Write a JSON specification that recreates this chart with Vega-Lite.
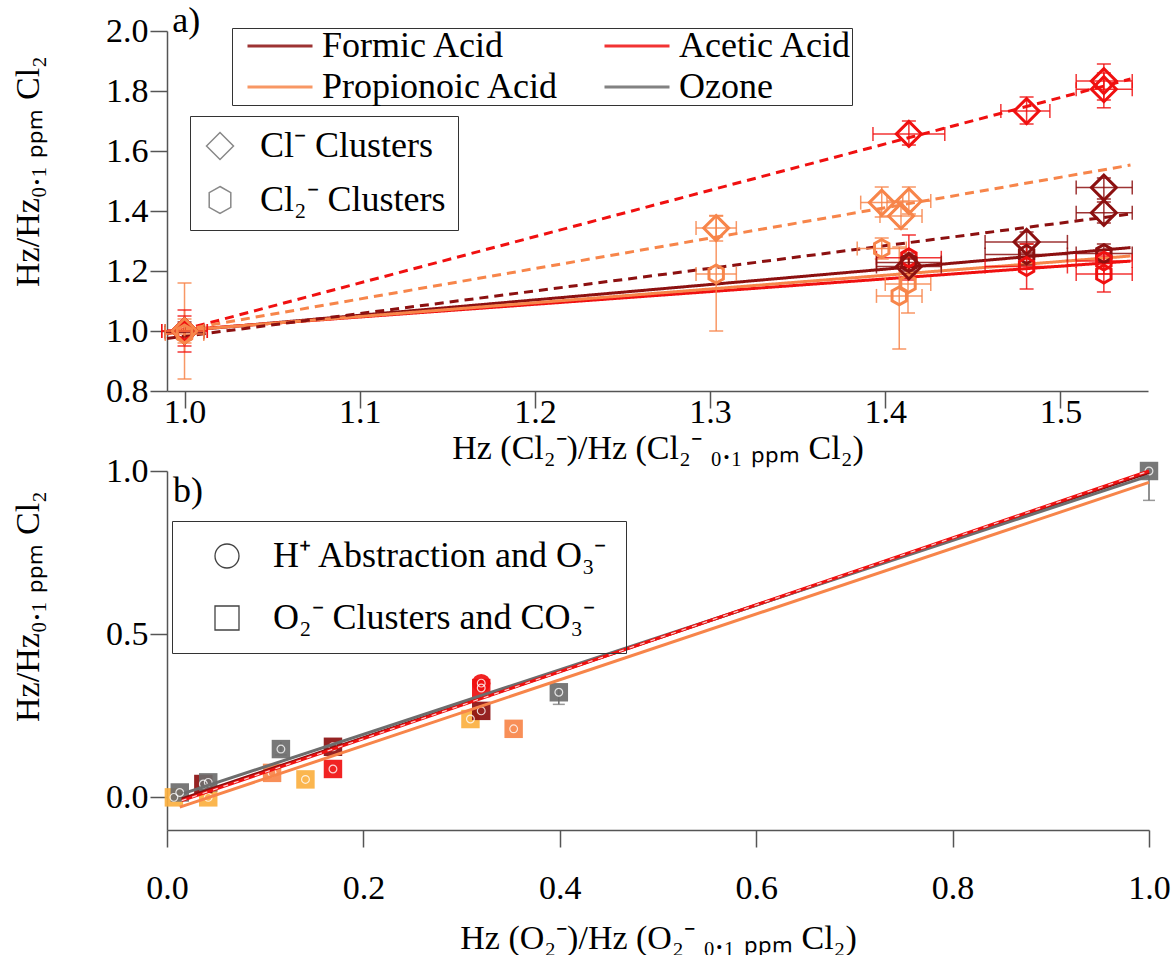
{
  "$schema": "https://vega.github.io/schema/vega-lite/v6.json",
  "background": "white",
  "padding": {"left": 11, "top": 2, "right": 5, "bottom": 0},
  "config": {
    "view": {"stroke": null},
    "font": "Liberation Serif",
    "axis": {"labelFont": "Liberation Serif", "titleFont": "Liberation Serif", "labelFontSize": 34, "titleFontSize": 34, "titleFontWeight": "normal", "labelColor": "black", "titleColor": "black", "domainColor": "#555555", "tickColor": "#555555", "domainWidth": 1.5, "tickWidth": 1.5, "tickSize": 17, "grid": false, "labelFlush": false},
    "legend": {"labelFont": "Liberation Serif", "labelFontSize": 36, "labelColor": "black", "strokeColor": "#333333", "orient": "none", "labelLimit": 700}
  },
  "datasets": {
    "linesA": [
      {"series": "Formic Acid", "fit": "Cl2", "x": 0.99, "y": 0.996},
      {"series": "Formic Acid", "fit": "Cl2", "x": 1.54, "y": 1.278},
      {"series": "Acetic Acid", "fit": "Cl2", "x": 0.99, "y": 1.0},
      {"series": "Acetic Acid", "fit": "Cl2", "x": 1.54, "y": 1.233},
      {"series": "Propionoic Acid", "fit": "Cl2", "x": 0.99, "y": 0.998},
      {"series": "Propionoic Acid", "fit": "Cl2", "x": 1.54, "y": 1.25},
      {"series": "Formic Acid", "fit": "Cl", "x": 0.99, "y": 0.975},
      {"series": "Formic Acid", "fit": "Cl", "x": 1.54, "y": 1.39},
      {"series": "Acetic Acid", "fit": "Cl", "x": 0.99, "y": 0.99},
      {"series": "Acetic Acid", "fit": "Cl", "x": 1.54, "y": 1.84},
      {"series": "Propionoic Acid", "fit": "Cl", "x": 0.99, "y": 0.995},
      {"series": "Propionoic Acid", "fit": "Cl", "x": 1.54, "y": 1.553}
    ],
    "pointsA": [
      {"series": "Formic Acid", "cluster": "Cl⁻ Clusters", "x": 1.0, "y": 1.0, "xlo": 0.989, "xhi": 1.011, "ylo": 0.98, "yhi": 1.02},
      {"series": "Formic Acid", "cluster": "Cl₂⁻ Clusters", "x": 1.0, "y": 0.995, "xlo": 0.989, "xhi": 1.011, "ylo": 0.97, "yhi": 1.03},
      {"series": "Acetic Acid", "cluster": "Cl⁻ Clusters", "x": 1.0, "y": 1.0, "xlo": 0.987, "xhi": 1.013, "ylo": 0.93, "yhi": 1.07},
      {"series": "Acetic Acid", "cluster": "Cl₂⁻ Clusters", "x": 1.0, "y": 1.0, "xlo": 0.987, "xhi": 1.013, "ylo": 0.95, "yhi": 1.05},
      {"series": "Propionoic Acid", "cluster": "Cl⁻ Clusters", "x": 1.0, "y": 1.0, "xlo": 0.989, "xhi": 1.011, "ylo": 0.96, "yhi": 1.04},
      {"series": "Propionoic Acid", "cluster": "Cl₂⁻ Clusters", "x": 1.0, "y": 0.99, "xlo": 0.989, "xhi": 1.011, "ylo": 0.84, "yhi": 1.16},
      {"series": "Propionoic Acid", "cluster": "Cl⁻ Clusters", "x": 1.3035, "y": 1.343, "xlo": 1.292, "xhi": 1.315, "ylo": 1.3, "yhi": 1.385},
      {"series": "Propionoic Acid", "cluster": "Cl₂⁻ Clusters", "x": 1.3035, "y": 1.19, "xlo": 1.292, "xhi": 1.315, "ylo": 1.0, "yhi": 1.383},
      {"series": "Propionoic Acid", "cluster": "Cl⁻ Clusters", "x": 1.398, "y": 1.428, "xlo": 1.386, "xhi": 1.41, "ylo": 1.38, "yhi": 1.48},
      {"series": "Propionoic Acid", "cluster": "Cl⁻ Clusters", "x": 1.4135, "y": 1.433, "xlo": 1.401, "xhi": 1.426, "ylo": 1.39, "yhi": 1.48},
      {"series": "Propionoic Acid", "cluster": "Cl⁻ Clusters", "x": 1.409, "y": 1.383, "xlo": 1.397, "xhi": 1.421, "ylo": 1.34, "yhi": 1.43},
      {"series": "Propionoic Acid", "cluster": "Cl₂⁻ Clusters", "x": 1.398, "y": 1.275, "xlo": 1.384, "xhi": 1.412, "ylo": 1.24, "yhi": 1.31},
      {"series": "Propionoic Acid", "cluster": "Cl₂⁻ Clusters", "x": 1.413, "y": 1.157, "xlo": 1.4, "xhi": 1.426, "ylo": 1.06, "yhi": 1.25},
      {"series": "Propionoic Acid", "cluster": "Cl₂⁻ Clusters", "x": 1.408, "y": 1.117, "xlo": 1.395, "xhi": 1.421, "ylo": 0.94, "yhi": 1.28},
      {"series": "Acetic Acid", "cluster": "Cl₂⁻ Clusters", "x": 1.4135, "y": 1.244, "xlo": 1.395, "xhi": 1.432, "ylo": 1.17, "yhi": 1.32},
      {"series": "Acetic Acid", "cluster": "Cl⁻ Clusters", "x": 1.4135, "y": 1.657, "xlo": 1.393, "xhi": 1.434, "ylo": 1.62, "yhi": 1.7},
      {"series": "Formic Acid", "cluster": "Cl⁻ Clusters", "x": 1.4135, "y": 1.215, "xlo": 1.395, "xhi": 1.432, "ylo": 1.19, "yhi": 1.24},
      {"series": "Formic Acid", "cluster": "Cl₂⁻ Clusters", "x": 1.4135, "y": 1.228, "xlo": 1.395, "xhi": 1.432, "ylo": 1.2, "yhi": 1.26},
      {"series": "Acetic Acid", "cluster": "Cl⁻ Clusters", "x": 1.4807, "y": 1.733, "xlo": 1.466, "xhi": 1.494, "ylo": 1.69, "yhi": 1.78},
      {"series": "Formic Acid", "cluster": "Cl⁻ Clusters", "x": 1.4807, "y": 1.297, "xlo": 1.457, "xhi": 1.504, "ylo": 1.26, "yhi": 1.33},
      {"series": "Formic Acid", "cluster": "Cl₂⁻ Clusters", "x": 1.4807, "y": 1.255, "xlo": 1.457, "xhi": 1.504, "ylo": 1.22, "yhi": 1.29},
      {"series": "Acetic Acid", "cluster": "Cl₂⁻ Clusters", "x": 1.4807, "y": 1.215, "xlo": 1.457, "xhi": 1.504, "ylo": 1.14, "yhi": 1.29},
      {"series": "Acetic Acid", "cluster": "Cl⁻ Clusters", "x": 1.5248, "y": 1.833, "xlo": 1.509, "xhi": 1.541, "ylo": 1.77, "yhi": 1.89},
      {"series": "Acetic Acid", "cluster": "Cl⁻ Clusters", "x": 1.5248, "y": 1.806, "xlo": 1.509, "xhi": 1.541, "ylo": 1.744, "yhi": 1.86},
      {"series": "Formic Acid", "cluster": "Cl⁻ Clusters", "x": 1.5248, "y": 1.478, "xlo": 1.509, "xhi": 1.541, "ylo": 1.44, "yhi": 1.51},
      {"series": "Formic Acid", "cluster": "Cl⁻ Clusters", "x": 1.5248, "y": 1.394, "xlo": 1.509, "xhi": 1.541, "ylo": 1.36, "yhi": 1.43},
      {"series": "Formic Acid", "cluster": "Cl₂⁻ Clusters", "x": 1.5248, "y": 1.258, "xlo": 1.509, "xhi": 1.541, "ylo": 1.23, "yhi": 1.29},
      {"series": "Acetic Acid", "cluster": "Cl₂⁻ Clusters", "x": 1.5248, "y": 1.233, "xlo": 1.509, "xhi": 1.541, "ylo": 1.19, "yhi": 1.26},
      {"series": "Acetic Acid", "cluster": "Cl₂⁻ Clusters", "x": 1.5248, "y": 1.19, "xlo": 1.509, "xhi": 1.541, "ylo": 1.13, "yhi": 1.25}
    ],
    "linesB": [
      {"series": "Formic Acid", "x": 0.015, "y": -0.005},
      {"series": "Formic Acid", "x": 1.0, "y": 0.995},
      {"series": "Ozone", "x": 0.017, "y": 0.012},
      {"series": "Ozone", "x": 1.0, "y": 0.985},
      {"series": "Propionoic Acid", "x": 0.013, "y": -0.03},
      {"series": "Propionoic Acid", "x": 1.0, "y": 0.965},
      {"series": "Acetic Acid", "x": 0.015, "y": -0.01},
      {"series": "Acetic Acid", "x": 1.0, "y": 1.0}
    ],
    "pointsB": [
      {"series": "Other", "type": "O₂⁻ Clusters and CO₃⁻", "x": 0.007, "y": 0.0},
      {"series": "Other", "type": "O₂⁻ Clusters and CO₃⁻", "x": 0.042, "y": 0.0},
      {"series": "Other", "type": "O₂⁻ Clusters and CO₃⁻", "x": 0.141, "y": 0.055},
      {"series": "Other", "type": "O₂⁻ Clusters and CO₃⁻", "x": 0.309, "y": 0.24},
      {"series": "Propionoic Acid", "type": "O₂⁻ Clusters and CO₃⁻", "x": 0.107, "y": 0.075},
      {"series": "Propionoic Acid", "type": "O₂⁻ Clusters and CO₃⁻", "x": 0.353, "y": 0.21},
      {"series": "Formic Acid", "type": "O₂⁻ Clusters and CO₃⁻", "x": 0.037, "y": 0.041},
      {"series": "Formic Acid", "type": "O₂⁻ Clusters and CO₃⁻", "x": 0.169, "y": 0.155},
      {"series": "Formic Acid", "type": "O₂⁻ Clusters and CO₃⁻", "x": 0.32, "y": 0.265},
      {"series": "Acetic Acid", "type": "O₂⁻ Clusters and CO₃⁻", "x": 0.169, "y": 0.087},
      {"series": "Acetic Acid", "type": "O₂⁻ Clusters and CO₃⁻", "x": 0.32, "y": 0.335},
      {"series": "Acetic Acid", "type": "H⁺ Abstraction and O₃⁻", "x": 0.32, "y": 0.35},
      {"series": "Ozone", "type": "O₂⁻ Clusters and CO₃⁻", "x": 0.013, "y": 0.015},
      {"series": "Ozone", "type": "O₂⁻ Clusters and CO₃⁻", "x": 0.042, "y": 0.046},
      {"series": "Ozone", "type": "O₂⁻ Clusters and CO₃⁻", "x": 0.116, "y": 0.148},
      {"series": "Ozone", "type": "O₂⁻ Clusters and CO₃⁻", "x": 0.399, "y": 0.322},
      {"series": "Ozone", "type": "O₂⁻ Clusters and CO₃⁻", "x": 1.0, "y": 1.0}
    ],
    "errB": [
      {"series": "Ozone", "x": 1.0, "ylo": 0.91, "yhi": 1.0},
      {"series": "Ozone", "x": 0.399, "ylo": 0.285, "yhi": 0.34},
      {"series": "Ozone", "x": 0.116, "ylo": 0.13, "yhi": 0.17}
    ]
  },
  "bounds": "flush",
  "spacing": 80,
  "resolve": {
    "scale": {"color": "independent", "shape": "independent", "strokeDash": "independent", "x": "independent", "y": "independent"},
    "legend": {"color": "independent", "shape": "independent"}
  },
  "vconcat": [
    {
      "width": 981,
      "height": 360,
      "encoding": {
        "x": {"type": "quantitative", "scale": {"domain": [0.99, 1.55], "nice": false, "zero": false},
          "axis": {"title": "Hz (Cl₂⁻)/Hz (Cl₂⁻ ₀.₁ ₚₚₘ Cl₂)", "values": [1.0, 1.1, 1.2, 1.3, 1.4, 1.5], "format": ".1f", "labelPadding": -13, "titlePadding": 2}},
        "y": {"type": "quantitative", "scale": {"domain": [0.8, 2.0], "nice": false, "zero": false},
          "axis": {"title": "Hz/Hz₀.₁ ₚₚₘ Cl₂", "values": [0.8, 1.0, 1.2, 1.4, 1.6, 1.8, 2.0], "format": ".1f", "labelPadding": 2, "titlePadding": 60, "titleY": 140}}
      },
      "layer": [
        {
          "data": {"name": "linesA"},
          "mark": {"type": "line", "strokeWidth": 3},
          "encoding": {
            "x": {"field": "x", "type": "quantitative"},
            "y": {"field": "y", "type": "quantitative"},
            "color": {"field": "series", "type": "nominal",
              "scale": {"domain": ["Formic Acid", "Propionoic Acid", "Acetic Acid", "Ozone"], "range": ["#8c1010", "#f7854a", "#f01010", "#6d6d6d"]},
              "legend": {"title": null, "columns": 2, "columnPadding": 30, "rowPadding": 5, "symbolType": "M-2.5,0L2.5,0", "symbolSize": 676, "symbolStrokeWidth": 3, "symbolOffset": 30, "labelOffset": 24, "padding": 0, "legendX": 65, "legendY": -3,
                "values": ["Formic Acid", "Propionoic Acid", "Acetic Acid", "Ozone"]}},
            "strokeDash": {"field": "fit", "type": "nominal", "scale": {"domain": ["Cl2", "Cl"], "range": [[1, 0], [9, 6]]}, "legend": null}
          }
        },
        {
          "data": {"name": "pointsA"},
          "mark": {"type": "rule", "strokeWidth": 1.5, "opacity": 0.85},
          "encoding": {
            "x": {"field": "x", "type": "quantitative"},
            "y": {"field": "ylo", "type": "quantitative"},
            "y2": {"field": "yhi"},
            "color": {"field": "series", "type": "nominal"}
          }
        },
        {
          "data": {"name": "pointsA"},
          "mark": {"type": "rule", "strokeWidth": 1.5, "opacity": 0.85},
          "encoding": {
            "x": {"field": "xlo", "type": "quantitative"},
            "x2": {"field": "xhi"},
            "y": {"field": "y", "type": "quantitative"},
            "color": {"field": "series", "type": "nominal"}
          }
        },
        {
          "data": {"name": "pointsA"},
          "mark": {"type": "tick", "orient": "horizontal", "size": 14, "thickness": 1.5, "opacity": 0.85},
          "encoding": {
            "x": {"field": "x", "type": "quantitative"},
            "y": {"field": "ylo", "type": "quantitative"},
            "color": {"field": "series", "type": "nominal"}
          }
        },
        {
          "data": {"name": "pointsA"},
          "mark": {"type": "tick", "orient": "horizontal", "size": 14, "thickness": 1.5, "opacity": 0.85},
          "encoding": {
            "x": {"field": "x", "type": "quantitative"},
            "y": {"field": "yhi", "type": "quantitative"},
            "color": {"field": "series", "type": "nominal"}
          }
        },
        {
          "data": {"name": "pointsA"},
          "mark": {"type": "tick", "orient": "vertical", "size": 14, "thickness": 1.5, "opacity": 0.85},
          "encoding": {
            "x": {"field": "xlo", "type": "quantitative"},
            "y": {"field": "y", "type": "quantitative"},
            "color": {"field": "series", "type": "nominal"}
          }
        },
        {
          "data": {"name": "pointsA"},
          "mark": {"type": "tick", "orient": "vertical", "size": 14, "thickness": 1.5, "opacity": 0.85},
          "encoding": {
            "x": {"field": "xhi", "type": "quantitative"},
            "y": {"field": "y", "type": "quantitative"},
            "color": {"field": "series", "type": "nominal"}
          }
        },
        {
          "data": {"name": "pointsA"},
          "mark": {"type": "point", "filled": false, "strokeWidth": 3, "opacity": 1},
          "encoding": {
            "x": {"field": "x", "type": "quantitative"},
            "y": {"field": "y", "type": "quantitative"},
            "color": {"field": "series", "type": "nominal"},
            "shape": {"field": "cluster", "type": "nominal",
              "scale": {"domain": ["Cl⁻ Clusters", "Cl₂⁻ Clusters"], "range": ["diamond", "M0,-1L0.8,-0.55L0.8,0.55L0,1L-0.8,0.55L-0.8,-0.55Z"]},
              "legend": {"title": null, "symbolSize": 729, "rowPadding": 18, "labelOffset": 22, "padding": 12, "legendX": 23, "legendY": 85,
                "encode": {"symbols": {"update": {"fill": {"value": "transparent"}, "stroke": {"value": "#333333"}, "strokeWidth": {"value": 1.3}}}}}},
            "size": {"field": "cluster", "type": "nominal", "scale": {"domain": ["Cl⁻ Clusters", "Cl₂⁻ Clusters"], "range": [625, 324]}, "legend": null}
          }
        },
        {
          "data": {"values": [{"label": "a)"}]},
          "mark": {"type": "text", "fontSize": 36, "align": "left", "baseline": "middle", "font": "Liberation Serif", "color": "black"},
          "encoding": {
            "x": {"datum": 0.993},
            "y": {"datum": 2.035},
            "text": {"field": "label"}
          }
        }
      ]
    },
    {
      "width": 982,
      "height": 359,
      "encoding": {
        "x": {"type": "quantitative", "scale": {"domain": [0, 1.0], "nice": false, "zero": false},
          "axis": {"title": "Hz (O₂⁻)/Hz (O₂⁻ ₀.₁ ₚₚₘ Cl₂)", "values": [0, 0.2, 0.4, 0.6, 0.8, 1.0], "format": ".1f", "labelPadding": 24, "titlePadding": 16}},
        "y": {"type": "quantitative", "scale": {"domain": [-0.1, 1.0], "nice": false, "zero": false},
          "axis": {"title": "Hz/Hz₀.₁ ₚₚₘ Cl₂", "values": [0, 0.5, 1.0], "format": ".1f", "labelPadding": 2, "titlePadding": 60, "titleY": 135}}
      },
      "layer": [
        {
          "data": {"name": "errB"},
          "mark": {"type": "rule", "strokeWidth": 1.5},
          "encoding": {
            "x": {"field": "x", "type": "quantitative"},
            "y": {"field": "ylo", "type": "quantitative"},
            "y2": {"field": "yhi"},
            "color": {"field": "series", "type": "nominal", "scale": {"domain": ["Formic Acid", "Acetic Acid", "Propionoic Acid", "Ozone", "Other"], "range": ["#8c1010", "#f01010", "#f7854a", "#6d6d6d", "#fbb040"]}, "legend": null}
          }
        },
        {
          "data": {"name": "errB"},
          "mark": {"type": "tick", "orient": "horizontal", "size": 12, "thickness": 1.5},
          "encoding": {
            "x": {"field": "x", "type": "quantitative"},
            "y": {"field": "ylo", "type": "quantitative"},
            "color": {"field": "series", "type": "nominal", "legend": null}
          }
        },
        {
          "data": {"name": "pointsB"},
          "mark": {"type": "point", "filled": true, "opacity": 0.92, "size": 340},
          "encoding": {
            "x": {"field": "x", "type": "quantitative"},
            "y": {"field": "y", "type": "quantitative"},
            "color": {"field": "series", "type": "nominal", "legend": null},
            "shape": {"field": "type", "type": "nominal",
              "scale": {"domain": ["H⁺ Abstraction and O₃⁻", "O₂⁻ Clusters and CO₃⁻"], "range": ["circle", "square"]},
              "legend": {"title": null, "symbolSize": 576, "symbolFillColor": "white", "symbolStrokeColor": "#333333", "symbolStrokeWidth": 1.3, "rowPadding": 26, "labelOffset": 28, "padding": 17, "symbolOffset": 20, "legendX": 5, "legendY": 50,
                "encode": {"symbols": {"update": {"fill": {"value": "white"}, "fillOpacity": {"value": 0}, "stroke": {"value": "#333333"}, "strokeWidth": {"value": 1.3}, "opacity": {"value": 1}}}}}}
          }
        },
        {
          "data": {"name": "pointsB"},
          "mark": {"type": "point", "filled": false, "size": 60, "color": "white", "strokeWidth": 1.2, "opacity": 0.8},
          "encoding": {
            "x": {"field": "x", "type": "quantitative"},
            "y": {"field": "y", "type": "quantitative"}
          }
        },
        {
          "data": {"name": "linesB"},
          "mark": {"type": "line", "strokeWidth": 3},
          "encoding": {
            "x": {"field": "x", "type": "quantitative"},
            "y": {"field": "y", "type": "quantitative"},
            "color": {"field": "series", "type": "nominal", "legend": null}
          }
        },
        {
          "data": {"name": "linesB"},
          "transform": [{"filter": "datum.series === 'Acetic Acid'"}],
          "mark": {"type": "line", "strokeWidth": 1.2, "color": "white", "strokeDash": [5, 6], "opacity": 0.8},
          "encoding": {
            "x": {"field": "x", "type": "quantitative"},
            "y": {"field": "y", "type": "quantitative"}
          }
        },
        {
          "data": {"values": [{"label": "b)"}]},
          "mark": {"type": "text", "fontSize": 36, "align": "left", "baseline": "middle", "font": "Liberation Serif", "color": "black"},
          "encoding": {
            "x": {"datum": 0.006},
            "y": {"datum": 0.94},
            "text": {"field": "label"}
          }
        }
      ]
    }
  ]
}
